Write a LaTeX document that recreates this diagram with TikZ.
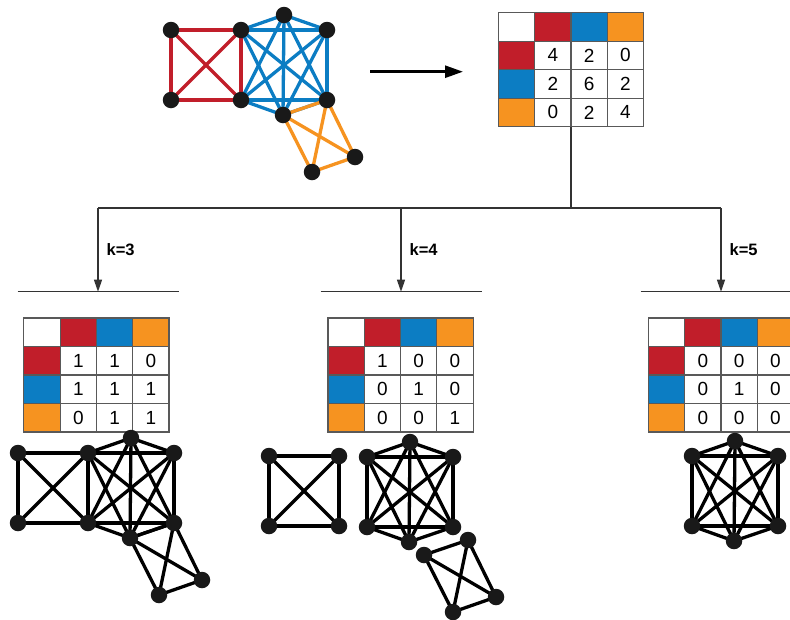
\documentclass[tikz,border=0pt]{standalone}
\usepackage{fontspec}
\setmainfont{Liberation Sans}
\usetikzlibrary{matrix, arrows.meta}
\definecolor{cred}{RGB}{193,30,42}
\definecolor{cblue}{RGB}{12,125,195}
\definecolor{corange}{RGB}{246,147,32}
\tikzset{
  cell/.style = {draw = black!65, line width = 1.2pt, minimum width = 36.3pt, minimum height = 28.5pt, inner sep = 0pt, anchor = center, font = \fontsize{19}{22}\selectfont},
  tbl/.style = {matrix of nodes, nodes in empty cells, nodes = {cell}, column sep = -1.2pt, row sep = -1.2pt, inner sep = 0pt, outer sep = 0pt, ampersand replacement = \&},
  hr/.style = {fill = cred}, hb/.style = {fill = cblue}, ho/.style = {fill = corange},
  gline/.style = {line width = 3.3pt},
  vtx/.style = {circle, fill = black!90, minimum size = 16.5pt, inner sep = 0pt},
  treeline/.style = {draw = black!80, line width = 1.3pt},
  klab/.style = {right, inner sep = 8pt, font = \bfseries\fontsize{16.5}{18}\selectfont}
}
\newcommand{\sqpts}[2]{%
  \begin{scope}[shift = {#2}]
    \coordinate (#1r1) at (171,30);  \coordinate (#1r2) at (241,30);
    \coordinate (#1r3) at (241,100); \coordinate (#1r4) at (171,100);
  \end{scope}
}
\newcommand{\hexpts}[2]{%
  \begin{scope}[shift = {#2}]
    \coordinate (#1b1) at (241,30);  \coordinate (#1b2) at (284,15);
    \coordinate (#1b3) at (327,30);  \coordinate (#1b4) at (327,100);
    \coordinate (#1b5) at (283,115); \coordinate (#1b6) at (241,100);
  \end{scope}
}
\newcommand{\kitepts}[2]{%
  \begin{scope}[shift = {#2}]
    \coordinate (#1o1) at (283,115); \coordinate (#1o2) at (327,100);
    \coordinate (#1o3) at (355,157); \coordinate (#1o4) at (312,172);
  \end{scope}
}
\newcommand{\clique}[2]{%
  \foreach \p [count = \i] in {#1} {
    \foreach \q [count = \j] in {#1} {
      \ifnum\j>\i \draw[gline, #2] (\p) -- (\q); \fi
    }
  }
}
\newcommand{\vtxs}[1]{\foreach \p in {#1} \node[vtx] at (\p) {};}
\newcommand{\cmat}[5]{%
  \matrix (#1) at #2 [tbl] {
    \& |[hr]| \& |[hb]| \& |[ho]| \\
    |[hr]| \& #3 \\
    |[hb]| \& #4 \\
    |[ho]| \& #5 \\
  };
}

\begin{document}
\begin{tikzpicture}[x = 1pt, y = -1pt]
\useasboundingbox (0,0) rectangle (790,619);

\sqpts{a}{(0,0)} \hexpts{a}{(0,0)} \kitepts{a}{(0,0)}
\clique{ab1,ab2,ab3,ab4,ab5,ab6}{cblue}
\clique{ar1,ar2,ar3,ar4}{cred}
\clique{ao1,ao2,ao3,ao4}{corange}
\vtxs{ar1,ar2,ar3,ar4,ab2,ab3,ab4,ab5,ao3,ao4}

\coordinate (a0) at (370,71.7);
\coordinate (a1) at (463,71.7);
\draw[line width = 2.6pt, -{Triangle[length = 18pt, width = 12pt]}] (a0) -- (a1);

\cmat{m0}{(571,69.7)}{4 \& 2 \& 0}{2 \& 6 \& 2}{0 \& 2 \& 4}

\coordinate (t0) at (571,208);
\coordinate (t1) at (98,208);   \coordinate (k1) at (98,291.7);
\coordinate (t2) at (401,208);  \coordinate (k2) at (401,291.7);
\coordinate (t3) at (721,208);  \coordinate (k3) at (721,291.7);
\draw[treeline] (m0.south) -- (t0);
\draw[treeline] (t1) -- (t3);
\foreach \k in {1,2,3}
  \draw[treeline] ([xshift = -80.5pt]k\k) -- ([xshift = 80.5pt]k\k);
\foreach \k/\v in {1/3, 2/4, 3/5}
  \draw[treeline, -{Triangle[length = 12pt, width = 8pt]}] (t\k) -- node[klab] {k=\v} (k\k);

\cmat{m1}{(96.5,375)}{1 \& 1 \& 0}{1 \& 1 \& 1}{0 \& 1 \& 1}
\cmat{m2}{(400.5,375)}{1 \& 0 \& 0}{0 \& 1 \& 0}{0 \& 0 \& 1}
\cmat{m3}{(721,375)}{0 \& 0 \& 0}{0 \& 1 \& 0}{0 \& 0 \& 0}

\sqpts{b}{(-153,423)} \hexpts{b}{(-153,423)} \kitepts{b}{(-153,423)}
\clique{bb1,bb2,bb3,bb4,bb5,bb6}{black}
\clique{br1,br2,br3,br4}{black}
\clique{bo1,bo2,bo3,bo4}{black}
\vtxs{br1,br2,br3,br4,bb2,bb3,bb4,bb5,bo3,bo4}

\sqpts{c}{(98,426)} \hexpts{c}{(126,427)} \kitepts{c}{(141,440)}
\clique{cb1,cb2,cb3,cb4,cb5,cb6}{black}
\clique{cr1,cr2,cr3,cr4}{black}
\clique{co1,co2,co3,co4}{black}
\vtxs{cr1,cr2,cr3,cr4,cb1,cb2,cb3,cb4,cb5,cb6,co1,co2,co3,co4}

\hexpts{d}{(451,426)}
\clique{db1,db2,db3,db4,db5,db6}{black}
\vtxs{db1,db2,db3,db4,db5,db6}
\end{tikzpicture}
\end{document}
